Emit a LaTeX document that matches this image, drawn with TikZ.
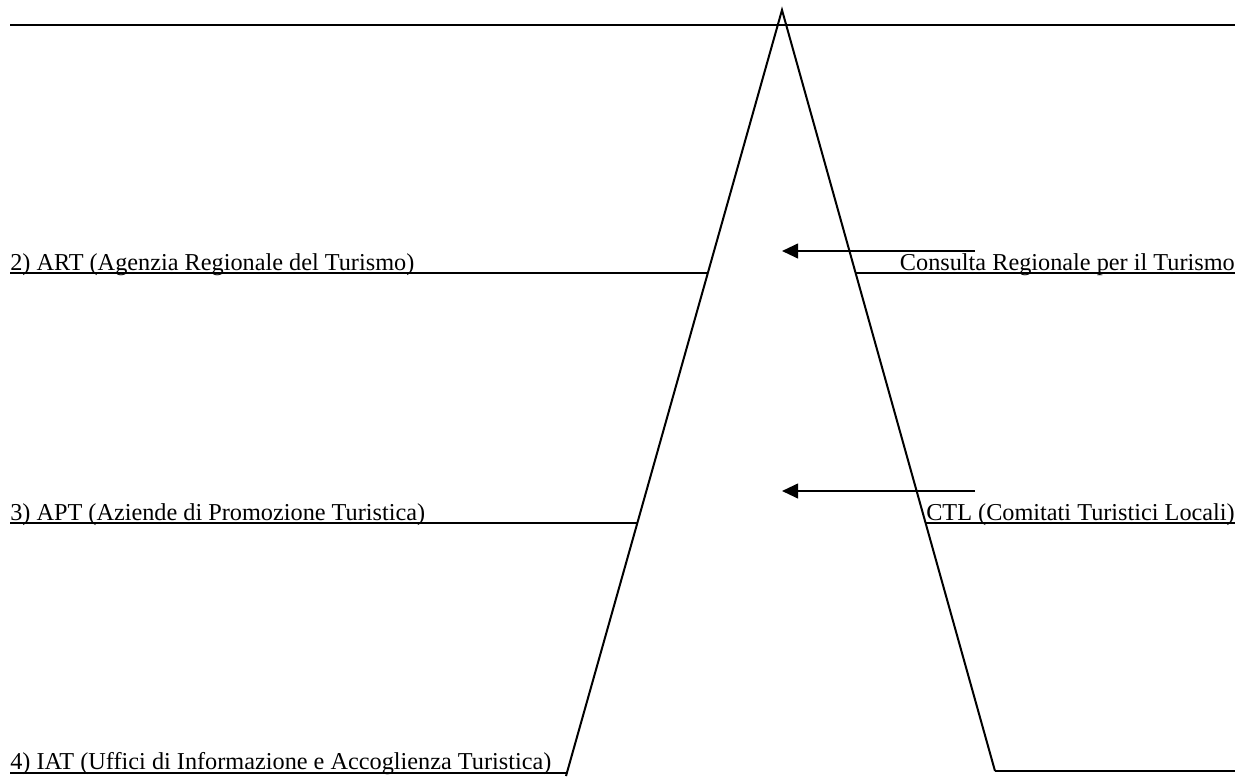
\documentclass[tikz,border=0pt]{standalone}
\usepackage{fontspec}
\setmainfont{Liberation Serif}
\usetikzlibrary{arrows.meta}
\begin{document}
\begin{tikzpicture}[x=0.75pt,y=-0.75pt,
  ln/.style={line width=1.5pt},
  lbl/.style={inner sep=0pt,font=\fontsize{18.2pt}{20pt}\selectfont},
  arr/.style={line width=1.5pt,-{Triangle[length=12pt,width=11pt]}}]
\useasboundingbox (0,0) rectangle (1240,776);
% triangle
\coordinate (apex) at (782,10);
\coordinate (lfoot) at (566,776);
\coordinate (rfoot) at (995,771);
\draw[ln] (lfoot) -- (apex) -- (rfoot);
% top line
\coordinate (tl) at (10,25);
\coordinate (tr) at (1235,25);
\draw[ln] (tl) -- (tr);
% level 2
\node[lbl,anchor=base west] (art) at (10,270) {2) ART (Agenzia Regionale del Turismo)};
\node[lbl,anchor=base east] (crt) at (1235,270) {Consulta Regionale per il Turismo};
\coordinate (l2a) at (10,273);
\coordinate (l2b) at (707.8,273);
\coordinate (r2a) at (856,273);
\coordinate (r2b) at (1235,273);
\draw[ln] (l2a) -- (l2b);
\draw[ln] (r2a) -- (r2b);
\coordinate (a1s) at (975,251);
\coordinate (a1e) at (782,251);
\draw[arr] (a1s) -- (a1e);
% level 3
\node[lbl,anchor=base west] (apt) at (10,520) {3) APT (Aziende di Promozione Turistica)};
\node[lbl,anchor=base east] (ctl) at (1235,520) {CTL (Comitati Turistici Locali)};
\coordinate (l3a) at (10,523);
\coordinate (l3b) at (637.3,523);
\coordinate (r3a) at (926,523);
\coordinate (r3b) at (1235,523);
\draw[ln] (l3a) -- (l3b);
\draw[ln] (r3a) -- (r3b);
\coordinate (a2s) at (975,491);
\coordinate (a2e) at (782,491);
\draw[arr] (a2s) -- (a2e);
% level 4
\node[lbl,anchor=base west] (iat) at (10,769) {4) IAT (Uffici di Informazione e Accoglienza Turistica)};
\coordinate (l4a) at (10,773);
\coordinate (l4b) at (567,773);
\coordinate (r4a) at (995,771);
\coordinate (r4b) at (1235,771);
\draw[ln] (l4a) -- (l4b);
\draw[ln] (r4a) -- (r4b);
\end{tikzpicture}
\end{document}
